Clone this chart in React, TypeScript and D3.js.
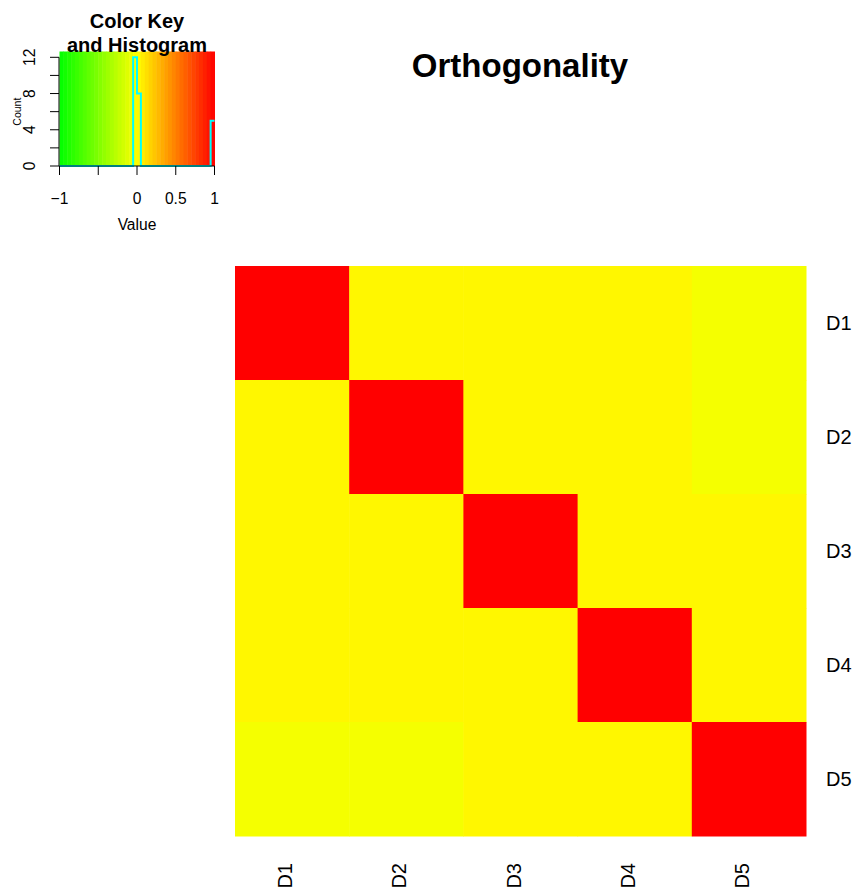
import React from "react";
import * as d3 from "d3";

// Correlation matrix between the five directions (row-major, D1 at top)
const rowLabels = ["D1", "D2", "D3", "D4", "D5"];
const colLabels = ["D1", "D2", "D3", "D4", "D5"];
const rowD1 = [1, 0.03, 0.03, 0.03, -0.04];
const rowD2 = [0.03, 1, 0.03, 0.03, -0.04];
const rowD3 = [0.03, 0.03, 1, 0.03, 0.03];
const rowD4 = [0.03, 0.03, 0.03, 1, 0.03];
const rowD5 = [-0.04, -0.04, 0.03, 0.03, 1];
const matrix = [rowD1, rowD2, rowD3, rowD4, rowD5];

// Histogram of values over 40 equal bins spanning [-1, 1]
const histCounts = [
  0, 0, 0, 0, 0, 0, 0, 0, 0, 0,
  0, 0, 0, 0, 0, 0, 0, 0, 0, 12,
  8, 0, 0, 0, 0, 0, 0, 0, 0, 0,
  0, 0, 0, 0, 0, 0, 0, 0, 0, 5,
];
const keyTicks = [-1, -0.5, 0, 0.5, 1];
const keyTickLabels = ["\u22121", "", "0", "0.5", "1"];
const countTicks = [0, 2, 4, 6, 8, 10, 12];
const countTickLabels = [0, 4, 8, 12];

const FONT = "'Liberation Sans', Arial, Helvetica, sans-serif";

export default function App() {
  const W = 861;
  const H = 894;

  const color = d3
    .scaleLinear<string>()
    .domain([-1, 0, 1])
    .range(["#00FF00", "#FFFF00", "#FF0000"]);

  // Heatmap
  const x = d3.scaleBand<string>().domain(colLabels).range([235, 806]);
  const y = d3.scaleBand<string>().domain(rowLabels).range([266, 836]);

  // Color key
  const kx = d3.scaleLinear().domain([-1, 1]).range([59.5, 214.5]);
  const ky = d3.scaleLinear().domain([0, 12]).range([166, 57.3]);
  const keyTop = 51.5;
  const nBins = histCounts.length;
  const breaks = d3.range(nBins + 1).map((i) => -1 + (2 * i) / nBins);

  const stepPts: [number, number][] = [];
  histCounts.forEach((c, i) => {
    stepPts.push([kx(breaks[i]), ky(c)]);
    stepPts.push([kx(breaks[i + 1]), ky(c)]);
  });
  const stepLine = d3.line()(stepPts) || "";

  return (
    <svg
      width={W}
      height={H}
      style={{ position: "absolute", left: 0, top: 0, background: "#fff" }}
      fontFamily={FONT}
    >
      {/* key gradient */}
      {histCounts.map((_, i) => (
        <rect
          key={"band" + i}
          x={kx(breaks[i])}
          y={keyTop}
          width={kx(breaks[i + 1]) - kx(breaks[i]) + 0.5}
          height={166 - keyTop}
          fill={color((breaks[i] + breaks[i + 1]) / 2)}
        />
      ))}
      <path d={stepLine} fill="none" stroke="#00FFFF" strokeWidth={2} />

      {/* key x axis */}
      <line x1={kx(-1)} x2={kx(1)} y1={166} y2={166} stroke="#000" />
      {keyTicks.map((t, i) => (
        <g key={"kt" + i}>
          <line x1={kx(t)} x2={kx(t)} y1={166} y2={175} stroke="#000" />
          <text x={kx(t)} y={204} fontSize={15.6} textAnchor="middle">
            {keyTickLabels[i]}
          </text>
        </g>
      ))}
      <text x={137} y={230} fontSize={15.6} textAnchor="middle">
        Value
      </text>

      {/* key y axis */}
      <line x1={59} x2={59} y1={ky(0)} y2={ky(12)} stroke="#000" />
      {countTicks.map((t) => (
        <line key={"ct" + t} x1={50} x2={59} y1={ky(t)} y2={ky(t)} stroke="#000" />
      ))}
      {countTickLabels.map((t) => (
        <text
          key={"cl" + t}
          transform={`translate(35,${ky(t)}) rotate(-90)`}
          fontSize={15.6}
          textAnchor="middle"
        >
          {t}
        </text>
      ))}
      <text transform={`translate(21,${ky(6)}) rotate(-90)`} fontSize={10.5} textAnchor="middle">
        Count
      </text>

      {/* key titles */}
      <text x={137} y={28} fontSize={20} fontWeight="bold" textAnchor="middle">
        Color Key
      </text>
      <text x={137} y={52} fontSize={20} fontWeight="bold" textAnchor="middle">
        and Histogram
      </text>

      {/* main title */}
      <text x={520} y={77} fontSize={33} fontWeight="bold" textAnchor="middle">
        Orthogonality
      </text>

      {/* heatmap cells */}
      {matrix.map((row, ri) =>
        row.map((v, ci) => (
          <rect
            key={`c${ri}-${ci}`}
            x={x(colLabels[ci])}
            y={y(rowLabels[ri])}
            width={x.bandwidth() + 0.5}
            height={y.bandwidth() + 0.5}
            fill={color(v)}
          />
        ))
      )}

      {/* row labels */}
      {rowLabels.map((r) => (
        <text
          key={"r" + r}
          x={826}
          y={(y(r) || 0) + y.bandwidth() / 2}
          dy="0.35em"
          fontSize={20}
        >
          {r}
        </text>
      ))}

      {/* column labels */}
      {colLabels.map((c) => (
        <text
          key={"cl" + c}
          transform={`translate(${(x(c) || 0) + x.bandwidth() / 2},863) rotate(-90)`}
          fontSize={20}
          textAnchor="end"
        >
          {c}
        </text>
      ))}
    </svg>
  );
}
